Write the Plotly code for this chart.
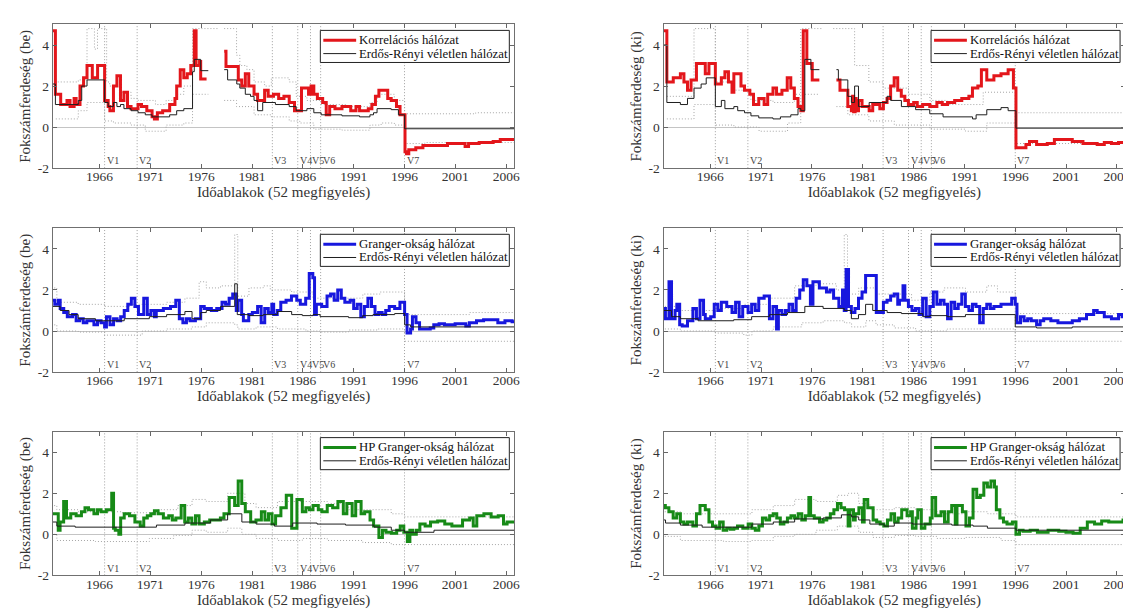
import plotly.graph_objects as go

# ---------------- data (step change points: (year, value)) ----------------
X_TICKS = [1966, 1971, 1976, 1981, 1986, 1991, 1996, 2001, 2006]
Y_TICKS = [-2, 0, 2, 4]
V_YEARS = [1966.5, 1969.7, 1983.0, 1985.5, 1986.75, 1987.75, 1996.0]
V_LABELS = ["V1", "V2", "V3", "V4", "V5", "V6", "V7"]

MAIN_NAMES = ["Korrelációs hálózat", "Korrelációs hálózat",
              "Granger-okság hálózat", "Granger-okság hálózat",
              "HP Granger-okság hálózat", "HP Granger-okság hálózat"]
ER_NAME = "Erdős-Rényi véletlen hálózat"
Y_TITLES = ["Fokszámferdeség (be)", "Fokszámferdeség (ki)"] * 3
X_TITLE = "Időablakok (52 megfigyelés)"

# Panel 1: correlation, in-degree skewness
P1_MAIN = [(1961.3, 4.7), (1961.66, 1.6), (1962.18, 1.1), (1962.8, 1.3), (1963.1, 1.0), (1963.5, 1.4),
           (1963.7, 1.1), (1964.08, 2.0), (1964.43, 2.4), (1964.77, 3.0), (1965.29, 2.4), (1965.81, 3.0),
           (1966.50, 1.3), (1966.85, 1.0), (1967.02, 0.8), (1967.37, 2.0), (1967.71, 2.5), (1968.06, 1.3),
           (1968.40, 1.7), (1968.75, 1.0), (1969.10, 0.9), (1969.79, 1.1), (1970.13, 1.0), (1970.65, 0.8),
           (1971.17, 0.5), (1971.4, 0.4), (1971.69, 0.7), (1972.21, 0.8), (1972.90, 1.1), (1973.42, 1.4),
           (1973.59, 2.0), (1973.94, 2.8), (1974.29, 2.4), (1974.63, 2.6), (1974.98, 3.0), (1975.32, 4.7),
           (1975.50, 3.0), (1975.84, 3.2), (1975.95, 2.35), (1976.53, 2.35), (1976.6, None),
           (1978.26, 3.7), (1978.44, 2.95), (1979.65, 2.3), (1979.99, 2.0), (1980.34, 2.6), (1980.68, 2.0),
           (1981.20, 1.6), (1981.55, 1.3), (1982.24, 1.8), (1982.59, 1.5), (1983.11, 1.6), (1983.62, 1.4),
           (1984.14, 1.5), (1984.66, 1.2), (1985.18, 0.8), (1985.87, 1.9), (1986.56, 1.6), (1986.81, 2.0),
           (1987.08, 1.6), (1987.43, 1.4), (1987.95, 1.2), (1988.30, 0.6), (1988.64, 1.0), (1989.16, 0.9),
           (1989.85, 1.0), (1990.71, 0.8), (1991.23, 1.0), (1991.58, 0.8), (1992.44, 0.9), (1992.79, 1.1),
           (1993.14, 1.5), (1993.48, 1.8), (1994.35, 1.4), (1994.69, 1.3), (1995.21, 1.0), (1995.56, 0.6),
           (1996.05, -1.2), (1996.2, -1.3), (1996.42, -1.1), (1997.11, -1.0), (1997.81, -0.9), (2000.23, -0.8),
           (2001.96, -0.95), (2002.30, -0.8), (2003.34, -0.75), (2004.72, -0.7), (2005.42, -0.6), (2006.8, -0.6)]
P1_ER = [(1961.3, 2.1), (1961.66, 1.1), (1963.91, 1.3), (1964.25, 2.0), (1964.77, 2.3), (1966.50, 1.2),
         (1966.85, 1.0), (1967.37, 1.2), (1967.71, 1.0), (1968.06, 1.1), (1968.40, 0.9), (1969.10, 0.8),
         (1969.79, 0.7), (1970.5, 0.6), (1971.17, 0.5), (1972.90, 0.6), (1973.59, 0.8), (1974.29, 0.9),
         (1975.15, 2.7), (1975.32, 3.3), (1975.95, 2.75), (1976.7, 2.75), (1976.75, None),
         (1978.26, 2.8), (1978.6, 2.3), (1979.5, 2.1), (1979.8, 1.9), (1980.34, 1.6), (1980.85, 1.5),
         (1981.2, 1.3), (1981.55, 0.8), (1982.05, 1.2), (1983.3, 1.1), (1984.66, 1.0), (1985.35, 0.8),
         (1986.4, 0.9), (1987.08, 0.7), (1987.8, 0.6), (1989.85, 0.55), (1991.58, 0.5), (1992.6, 0.6),
         (1992.95, 0.7), (1993.3, 0.9), (1994.69, 0.85), (1995.4, 0.6), (1996.01, -0.08), (2006.8, -0.05)]
P1_HI = [(1961.3, 2.2), (1963.91, 2.3), (1964.77, 4.8), (1965.5, 3.8), (1965.8, 4.8), (1966.7, 2.2),
         (1967.0, 2.0), (1968.06, 1.7), (1969.10, 1.4), (1969.79, 1.3), (1971.5, 1.1), (1972.55, 1.3),
         (1973.59, 1.6), (1974.29, 2.0), (1975.15, 4.8), (1977.7, 4.8), (1977.75, None),
         (1978.26, 4.8), (1979.48, 3.5), (1979.8, 3.0), (1980.5, 2.8), (1981.2, 2.2), (1982.24, 2.0),
         (1982.9, 2.4), (1984.66, 2.2), (1985.35, 1.5), (1986.4, 1.3), (1987.8, 1.1), (1990.2, 1.0),
         (1992.6, 1.2), (1993.3, 1.6), (1995.0, 1.3), (1996.01, 0.65), (2003.0, 0.7), (2006.8, 0.7)]
P1_LO = [(1961.7, 0.4), (1963.91, 0.8), (1964.77, 1.2), (1966.5, 0.3), (1967.37, 0.2), (1969.10, 0.1),
         (1970.5, -0.2), (1972.55, 0.1), (1974.29, 0.2), (1975.15, 1.6), (1976.7, 1.6), (1976.75, None),
         (1978.26, 1.3), (1979.48, 1.0), (1981.2, 0.6), (1982.9, 0.5), (1984.66, 0.3), (1985.7, 0.2),
         (1987.08, -0.1), (1989.85, -0.15), (1992.6, 0.1), (1993.7, 0.2), (1995.0, 0.1), (1996.01, -0.8),
         (1998.0, -0.75), (2006.8, -0.75)]

# Panel 2: correlation, out-degree skewness
P2_MAIN = [(1961.24, 4.7), (1961.73, 2.2), (1962.36, 2.4), (1963.06, 2.6), (1963.41, 2.2), (1963.76, 1.8),
           (1964.11, 2.3), (1964.64, 3.1), (1965.51, 2.6), (1965.87, 3.1), (1966.50, 2.1), (1967.09, 2.4),
           (1967.44, 2.7), (1967.79, 2.2), (1968.14, 1.7), (1968.32, 2.6), (1969.02, 2.0), (1969.37, 1.8),
           (1969.89, 1.6), (1970.25, 1.1), (1970.77, 1.4), (1971.30, 1.1), (1971.65, 1.6), (1972.17, 1.9),
           (1972.52, 1.6), (1973.05, 1.8), (1973.57, 2.4), (1973.92, 1.9), (1974.27, 1.4), (1974.63, 1.0),
           (1974.91, 0.8), (1975.15, 4.7), (1975.50, 3.1), (1976.03, 2.3), (1976.73, 2.3), (1976.8, None),
           (1978.41, 2.3), (1978.76, 1.8), (1979.53, 1.0), (1979.88, 0.8), (1980.0, 1.5), (1980.1, 0.75),
           (1980.25, 1.4), (1980.35, 0.8), (1980.58, 1.3), (1980.93, 1.0), (1981.63, 0.8), (1981.98, 1.1),
           (1982.68, 0.9), (1983.03, 1.2), (1983.39, 1.4), (1983.74, 2.0), (1984.09, 2.4), (1984.44, 1.8),
           (1984.79, 1.5), (1985.14, 1.3), (1985.49, 1.1), (1986.01, 1.2), (1986.36, 1.0), (1986.89, 1.1),
           (1987.59, 1.0), (1988.29, 1.2), (1988.82, 1.1), (1989.34, 1.2), (1990.04, 1.3), (1990.74, 1.4),
           (1991.44, 1.5), (1991.79, 1.9), (1992.32, 2.0), (1992.67, 2.8), (1993.20, 2.3), (1993.90, 2.5),
           (1994.60, 2.6), (1995.30, 2.8), (1995.82, 1.9), (1996.07, -1.0), (1997.05, -0.85), (1997.40, -0.7),
           (1998.10, -0.85), (1999.15, -0.8), (1999.85, -0.6), (2001.61, -0.7), (2002.66, -0.8),
           (2004.06, -0.85), (2004.76, -0.75), (2005.46, -0.8), (2006.16, -0.75), (2006.8, -0.75)]
P2_ER = [(1961.24, 4.0), (1961.73, 1.2), (1963.06, 1.1), (1963.76, 1.4), (1964.4, 1.9), (1965.1, 2.1),
         (1965.6, 2.4), (1966.50, 1.0), (1967.09, 1.3), (1967.44, 0.9), (1968.32, 1.0), (1968.7, 0.8),
         (1969.37, 0.7), (1970.0, 0.55), (1970.77, 0.45), (1972.17, 0.4), (1972.9, 0.5), (1973.92, 0.6),
         (1974.63, 0.9), (1974.91, 0.8), (1975.3, 3.3), (1975.9, 2.8), (1976.73, 2.8), (1976.8, None),
         (1978.41, 2.8), (1978.6, 2.3), (1979.53, 1.5), (1979.88, 1.2), (1980.2, 2.0), (1980.58, 1.0),
         (1981.63, 1.2), (1983.39, 1.5), (1983.74, 1.3), (1984.8, 1.0), (1986.2, 0.85), (1987.59, 0.65),
         (1988.9, 0.5), (1991.8, 0.4), (1992.15, 0.6), (1993.2, 0.85), (1994.6, 0.95), (1995.3, 0.8),
         (1996.07, -0.05), (2006.8, -0.05)]
P2_HI = [(1961.73, 1.5), (1964.4, 4.8), (1966.50, 2.2), (1968.32, 1.8), (1970.0, 1.3), (1972.17, 1.2),
         (1974.27, 1.6), (1974.9, 4.8), (1977.1, 4.8), (1977.15, None), (1978.1, 4.8), (1980.2, 3.0),
         (1981.6, 2.2), (1983.0, 1.9), (1985.5, 1.6), (1987.6, 1.3), (1989.3, 1.1), (1992.85, 1.7),
         (1996.07, 0.7), (2006.8, 0.7)]
P2_LO = [(1961.73, 0.4), (1964.4, 1.1), (1966.50, 0.1), (1968.32, 0.0), (1970.8, -0.2), (1973.6, 0.2),
         (1974.9, 1.6), (1976.73, 1.6), (1976.8, None), (1978.41, 1.0), (1979.53, 0.6), (1981.6, 0.3),
         (1984.1, 0.1), (1987.6, -0.1), (1991.1, -0.2), (1993.2, 0.2), (1996.07, -0.8), (2006.8, -0.8)]

# Panel 3: Granger, in-degree skewness
P3_MAIN = [(1961.25, 1.5), (1961.60, 1.3), (1961.95, 1.5), (1962.13, 1.1), (1962.48, 0.9), (1962.83, 0.7),
           (1963.35, 0.8), (1963.70, 0.5), (1964.05, 0.6), (1964.40, 0.4), (1964.75, 0.5), (1965.45, 0.3),
           (1965.80, 0.5), (1966.15, 0.4), (1966.50, 0.2), (1966.68, 0.7), (1967.03, 0.3), (1967.38, 0.6),
           (1967.73, 0.5), (1968.08, 0.7), (1968.43, 1.0), (1968.78, 1.3), (1969.13, 1.6), (1969.48, 1.2),
           (1969.83, 0.8), (1970.35, 1.6), (1970.70, 0.8), (1971.05, 1.0), (1971.40, 0.7), (1971.58, 1.0),
           (1972.28, 1.1), (1972.98, 1.2), (1973.50, 1.5), (1973.85, 0.6), (1974.20, 0.4), (1974.55, 0.6),
           (1974.90, 0.5), (1975.43, 0.6), (1975.95, 1.2), (1976.30, 1.1), (1977.00, 1.0), (1977.53, 1.1),
           (1978.05, 1.4), (1978.40, 1.3), (1978.75, 1.6), (1979.10, 1.8), (1979.45, 1.0), (1979.63, 1.5),
           (1979.98, 0.8), (1980.15, 0.5), (1980.68, 0.8), (1981.03, 0.9), (1981.55, 1.2), (1981.90, 0.4),
           (1982.25, 1.1), (1982.60, 0.9), (1982.95, 1.3), (1983.13, 0.8), (1983.48, 1.0), (1983.83, 1.4),
           (1984.35, 1.5), (1984.88, 1.7), (1985.40, 1.5), (1985.75, 1.3), (1986.28, 1.6), (1986.63, 2.8),
           (1986.98, 2.6), (1987.15, 0.8), (1987.33, 1.3), (1987.85, 1.2), (1988.38, 1.7), (1988.73, 1.8),
           (1989.08, 1.5), (1989.43, 2.0), (1989.78, 1.6), (1990.13, 1.4), (1990.65, 1.5), (1991.00, 1.1),
           (1991.35, 1.3), (1991.70, 0.7), (1992.05, 1.2), (1992.40, 1.6), (1992.75, 1.2), (1993.10, 0.8),
           (1993.45, 0.9), (1993.80, 0.8), (1994.15, 1.0), (1994.50, 1.2), (1995.03, 1.1), (1995.55, 1.4),
           (1996.01, 0.8), (1996.25, -0.1), (1996.60, 0.1), (1996.78, 0.7), (1997.13, 0.4), (1997.48, 0.1),
           (1998.53, 0.15), (1998.88, 0.3), (1999.40, 0.35), (1999.93, 0.3), (2000.98, 0.35), (2002.03, 0.25),
           (2002.38, 0.4), (2003.08, 0.5), (2003.78, 0.55), (2005.18, 0.4), (2005.88, 0.5), (2006.58, 0.45),
           (2006.8, 0.45)]
P3_ER = [(1961.25, 1.2), (1962.13, 1.0), (1963.0, 0.8), (1963.9, 0.6), (1965.6, 0.5), (1968.43, 0.6),
         (1970.9, 0.7), (1972.6, 0.8), (1974.4, 0.95), (1975.1, 0.6), (1975.95, 0.9), (1976.5, 1.0),
         (1977.9, 1.2), (1979.3, 2.3), (1979.55, 0.8), (1980.68, 0.75), (1982.1, 0.8), (1983.5, 0.95),
         (1984.9, 0.8), (1985.95, 0.75), (1987.0, 0.8), (1987.7, 0.7), (1990.5, 0.65), (1991.9, 0.75),
         (1992.9, 0.8), (1995.03, 0.85), (1996.01, 0.3), (1996.6, 0.2), (2006.8, 0.2)]
P3_HI = [(1961.25, 2.1), (1961.8, 1.4), (1963.9, 1.3), (1966.5, 1.2), (1969.1, 1.3), (1972.6, 1.4),
         (1974.4, 1.6), (1975.8, 2.4), (1976.5, 2.1), (1977.9, 2.2), (1979.3, 4.7), (1979.6, 1.7),
         (1980.7, 2.1), (1982.1, 2.2), (1982.8, 2.0), (1984.9, 1.9), (1987.0, 1.6), (1991.9, 1.8),
         (1993.6, 1.9), (1996.01, 0.8), (2002.4, 0.9), (2006.8, 0.9)]
P3_LO = [(1961.25, 0.3), (1961.8, 0.0), (1963.9, -0.05), (1966.5, -0.2), (1970.2, 0.0), (1972.6, 0.1),
         (1975.1, 0.2), (1976.5, 0.4), (1979.3, 0.3), (1979.6, 0.1), (1981.4, 0.2), (1983.5, 0.1),
         (1986.3, 0.0), (1987.7, -0.05), (1990.5, 0.05), (1993.3, 0.1), (1996.01, -0.5), (2006.8, -0.5)]

# Panel 4: Granger, out-degree skewness
P4_MAIN = [(1961.24, 1.1), (1961.59, 0.6), (1961.94, 2.4), (1962.19, 0.6), (1962.54, 1.0), (1962.71, 1.3),
           (1962.99, 0.3), (1963.24, 0.25), (1963.76, 0.5), (1964.29, 1.1), (1964.64, 0.6), (1964.99, 1.5),
           (1965.34, 0.8), (1965.51, 0.6), (1966.04, 0.7), (1966.39, 1.3), (1966.74, 1.0), (1967.09, 1.4),
           (1967.62, 1.2), (1968.14, 0.9), (1968.49, 1.4), (1968.84, 0.7), (1969.19, 1.2), (1969.72, 0.9),
           (1970.07, 1.3), (1970.42, 1.0), (1970.77, 1.6), (1971.30, 1.7), (1971.82, 0.6), (1972.17, 1.2),
           (1972.52, 0.1), (1972.70, 1.0), (1973.05, 0.8), (1973.40, 1.0), (1973.75, 1.3), (1974.10, 1.0),
           (1974.45, 1.6), (1974.80, 2.0), (1975.15, 2.5), (1975.50, 2.2), (1975.85, 1.3), (1976.10, 2.4),
           (1976.73, 2.1), (1977.43, 1.9), (1977.78, 2.0), (1978.13, 1.6), (1978.65, 1.2), (1979.01, 2.0),
           (1979.18, 1.0), (1979.36, 3.0), (1979.60, 1.2), (1979.88, 0.9), (1980.23, 1.1), (1980.58, 1.6),
           (1980.93, 1.9), (1981.28, 2.7), (1982.33, 0.9), (1983.03, 1.4), (1983.39, 1.5), (1983.74, 1.7),
           (1984.09, 1.8), (1984.44, 1.3), (1984.61, 1.5), (1984.96, 2.2), (1985.14, 1.5), (1985.49, 1.2),
           (1985.84, 1.0), (1986.19, 1.1), (1986.54, 0.8), (1986.89, 1.6), (1987.24, 0.7), (1987.59, 1.2),
           (1987.94, 1.9), (1988.29, 1.3), (1988.64, 1.5), (1988.99, 1.3), (1989.34, 0.6), (1989.69, 1.4),
           (1990.04, 1.1), (1990.39, 1.3), (1990.74, 1.8), (1991.09, 1.2), (1991.44, 1.0), (1991.79, 1.3),
           (1992.14, 1.2), (1992.50, 0.4), (1992.85, 1.1), (1993.20, 1.3), (1993.55, 1.1), (1993.90, 1.2),
           (1994.60, 1.3), (1995.65, 1.6), (1996.00, 1.3), (1996.17, 0.4), (1996.52, 0.7), (1996.87, 0.5),
           (1997.22, 0.6), (1997.57, 0.5), (1998.10, 0.3), (1998.45, 0.5), (1998.80, 0.6), (1999.50, 0.5),
           (2000.20, 0.4), (2001.61, 0.5), (2002.31, 0.6), (2003.01, 0.8), (2003.71, 1.0), (2004.06, 0.9),
           (2004.76, 0.7), (2005.46, 0.6), (2006.16, 0.8), (2006.51, 0.7), (2006.8, 0.7)]
P4_ER = [(1961.24, 1.0), (1962.19, 0.7), (1963.06, 0.6), (1964.8, 0.5), (1968.3, 0.55), (1970.07, 0.7),
         (1971.82, 0.8), (1973.6, 0.9), (1975.3, 1.2), (1977.1, 1.1), (1979.18, 1.0), (1979.88, 0.6),
         (1980.58, 0.8), (1981.28, 1.3), (1981.98, 1.0), (1983.4, 0.9), (1984.8, 0.85), (1986.9, 0.7),
         (1987.6, 0.75), (1989.3, 0.7), (1991.1, 0.8), (1996.0, 0.2), (1998.1, 0.15), (2001.6, 0.2),
         (2006.8, 0.2)]
P4_HI = [(1961.24, 1.2), (1963.06, 1.0), (1966.5, 1.1), (1969.3, 1.3), (1971.8, 1.6), (1974.3, 2.2),
         (1976.4, 2.3), (1978.4, 2.0), (1979.18, 4.7), (1979.5, 1.8), (1980.6, 2.1), (1982.33, 1.8),
         (1985.8, 1.5), (1987.6, 1.9), (1989.0, 2.1), (1991.1, 1.9), (1993.2, 2.2), (1994.25, 1.9),
         (1996.0, 0.85), (2006.8, 0.85)]
P4_LO = [(1961.24, 0.1), (1963.06, 0.0), (1966.5, -0.1), (1969.3, -0.2), (1970.1, 0.0), (1972.2, 0.2),
         (1975.0, 0.4), (1977.1, 0.5), (1979.2, 0.4), (1979.9, 0.2), (1981.3, 0.5), (1982.3, 0.3),
         (1984.1, 0.15), (1986.2, 0.0), (1989.3, 0.1), (1996.0, -0.5), (2006.8, -0.5)]

# Panel 5: HP Granger, in-degree skewness
P5_MAIN = [(1961.24, 1.0), (1961.94, 0.2), (1962.12, 0.6), (1962.47, 1.6), (1962.75, 0.8), (1963.17, 1.0),
           (1963.70, 0.9), (1964.22, 1.1), (1964.57, 1.3), (1964.92, 1.2), (1965.45, 1.0), (1965.80, 1.2),
           (1966.15, 1.1), (1966.67, 1.2), (1967.20, 2.0), (1967.38, 0.3), (1967.55, 0.2), (1967.90, 0.0),
           (1968.08, 0.8), (1968.43, 1.0), (1968.95, 0.9), (1969.48, 0.6), (1970.00, 0.4), (1970.35, 0.8),
           (1970.70, 0.9), (1971.05, 1.0), (1971.40, 1.15), (1971.76, 1.0), (1972.28, 0.8), (1972.81, 0.9),
           (1973.16, 0.7), (1973.51, 0.8), (1974.03, 1.4), (1974.38, 0.6), (1974.73, 0.8), (1975.08, 0.5),
           (1975.44, 0.9), (1975.79, 0.5), (1976.31, 0.6), (1976.84, 0.7), (1977.89, 0.8), (1978.24, 1.0),
           (1978.76, 1.8), (1979.29, 1.4), (1979.64, 2.6), (1979.99, 1.5), (1980.34, 1.1), (1980.87, 0.6),
           (1981.39, 0.7), (1981.92, 1.1), (1982.27, 0.7), (1982.62, 1.0), (1982.97, 0.5), (1983.32, 0.9),
           (1983.84, 1.3), (1984.37, 1.9), (1984.90, 0.3), (1985.42, 1.7), (1985.95, 1.1), (1986.30, 1.3),
           (1986.65, 1.2), (1987.00, 1.4), (1987.52, 1.2), (1987.87, 1.1), (1988.40, 1.4), (1988.93, 1.3),
           (1989.45, 1.6), (1989.98, 1.0), (1990.33, 1.5), (1990.85, 0.9), (1991.20, 1.6), (1991.73, 1.0),
           (1992.08, 1.1), (1992.61, 0.7), (1992.96, 0.4), (1993.48, -0.15), (1993.83, 0.2), (1994.18, 0.1),
           (1994.71, 0.05), (1995.23, 0.2), (1995.58, 0.4), (1995.93, 0.1), (1996.28, -0.35), (1996.53, 0.2),
           (1996.81, 0.0), (1997.16, 0.2), (1997.51, 0.5), (1998.03, 0.4), (1998.56, 0.6), (1999.26, 0.65),
           (1999.96, 0.5), (2000.66, 0.4), (2001.71, 0.7), (2002.41, 0.8), (2002.76, 0.4), (2003.11, 0.9),
           (2003.81, 1.0), (2004.52, 0.85), (2005.22, 0.9), (2005.74, 0.5), (2006.09, 0.6), (2006.8, 0.6)]
P5_ER = [(1961.24, 0.6), (1961.8, 0.4), (1963.6, 0.35), (1971.6, 0.45), (1974.4, 0.55), (1976.9, 0.7),
         (1978.6, 1.0), (1980.0, 0.6), (1981.4, 0.5), (1983.2, 0.4), (1985.0, 0.55), (1987.4, 0.5),
         (1990.2, 0.45), (1993.0, 0.35), (1994.7, 0.2), (1996.0, 0.1), (1998.9, 0.2), (2006.8, 0.2)]
P5_HI = [(1961.24, 1.4), (1961.8, 1.2), (1963.9, 1.1), (1968.1, 1.05), (1971.6, 1.2), (1973.7, 1.4),
         (1975.1, 1.7), (1976.5, 1.6), (1978.6, 2.0), (1980.3, 1.5), (1981.4, 1.3), (1983.5, 1.6),
         (1988.4, 1.5), (1990.5, 1.2), (1994.7, 1.0), (1996.0, 0.85), (2006.8, 0.85)]
P5_LO = [(1961.24, 0.0), (1961.8, -0.3), (1965.6, -0.35), (1970.9, -0.2), (1973.3, -0.05), (1975.1, 0.2),
         (1976.5, 0.1), (1978.6, 0.3), (1980.0, 0.0), (1981.4, -0.2), (1983.5, -0.3), (1985.95, -0.2),
         (1988.4, -0.3), (1991.9, -0.4), (1994.7, -0.5), (2006.8, -0.5)]

# Panel 6: HP Granger, out-degree skewness
P6_MAIN = [(1961.23, 1.4), (1961.58, 1.3), (1961.93, 1.1), (1962.35, 0.8), (1962.70, 1.0), (1963.06, 0.6),
           (1963.41, 0.5), (1963.76, 0.6), (1964.29, 0.4), (1964.64, 1.0), (1964.99, 1.4), (1965.51, 1.2),
           (1965.87, 0.6), (1966.22, 0.4), (1966.57, 0.3), (1966.92, 0.6), (1967.27, 0.2), (1967.62, 0.3),
           (1967.97, 0.25), (1968.32, 0.3), (1968.68, 0.4), (1969.20, 0.3), (1969.73, 0.5), (1970.08, 0.3),
           (1970.43, 0.2), (1970.78, 0.4), (1971.13, 0.8), (1971.48, 0.7), (1971.84, 0.9), (1972.19, 1.0),
           (1972.54, 0.8), (1972.89, 0.5), (1973.24, 0.6), (1973.59, 0.8), (1973.94, 0.9), (1974.29, 0.8),
           (1974.65, 1.0), (1975.00, 0.7), (1975.35, 0.9), (1975.70, 1.8), (1975.87, 0.9), (1976.23, 0.8),
           (1976.75, 0.6), (1977.10, 0.7), (1977.46, 0.8), (1977.81, 1.0), (1978.16, 1.2), (1978.51, 1.5),
           (1978.86, 1.3), (1979.21, 1.2), (1979.56, 0.4), (1979.74, 1.2), (1980.09, 0.7), (1980.26, 1.0),
           (1980.62, 1.3), (1980.97, 0.6), (1981.14, 1.7), (1981.49, 1.3), (1982.02, 0.7), (1982.37, 0.6),
           (1982.72, 0.5), (1983.07, 0.4), (1983.43, 0.7), (1983.78, 1.0), (1984.13, 0.6), (1984.48, 0.8),
           (1984.83, 1.2), (1985.36, 0.9), (1985.71, 1.1), (1985.88, 0.3), (1986.24, 0.8), (1986.41, 1.2),
           (1986.76, 0.3), (1987.11, 0.5), (1987.64, 0.8), (1987.82, 1.8), (1988.17, 0.9), (1988.70, 1.1),
           (1989.04, 0.6), (1989.40, 1.1), (1989.75, 1.4), (1990.10, 0.5), (1990.27, 1.4), (1990.80, 1.1),
           (1991.15, 0.4), (1991.50, 0.8), (1991.85, 2.2), (1992.21, 1.8), (1992.56, 1.9), (1992.91, 2.5),
           (1993.26, 2.3), (1993.61, 2.6), (1993.96, 2.3), (1994.14, 1.2), (1994.49, 0.8), (1994.84, 0.6),
           (1995.19, 0.5), (1995.72, 0.6), (1996.07, 0.0), (1996.42, 0.2), (1996.77, 0.15), (1997.47, 0.2),
           (1998.18, 0.1), (1999.23, 0.2), (2000.28, 0.15), (2000.99, 0.1), (2001.69, 0.05), (2002.39, 0.3),
           (2003.09, 0.6), (2003.80, 0.5), (2004.50, 0.65), (2005.20, 0.6), (2006.60, 0.7), (2006.8, 0.7)]
P6_ER = [(1961.23, 0.7), (1961.6, 0.55), (1963.06, 0.45), (1965.2, 0.35), (1970.1, 0.5), (1972.2, 0.6),
         (1974.3, 0.75), (1977.1, 0.8), (1978.9, 0.95), (1979.9, 0.85), (1980.6, 0.7), (1981.7, 0.5),
         (1983.1, 0.4), (1984.1, 0.55), (1985.9, 0.5), (1989.75, 0.45), (1991.85, 0.4), (1993.26, 0.3),
         (1996.07, 0.2), (2006.8, 0.2)]
P6_HI = [(1961.23, 1.1), (1963.06, 1.0), (1970.1, 1.2), (1972.2, 1.4), (1974.3, 1.7), (1976.4, 1.6),
         (1978.5, 1.9), (1979.6, 2.0), (1980.6, 1.5), (1981.7, 1.2), (1984.1, 1.3), (1986.2, 1.2),
         (1988.3, 1.0), (1991.1, 1.1), (1993.3, 1.0), (1996.07, 0.85), (2006.8, 0.85)]
P6_LO = [(1961.23, -0.1), (1963.06, -0.3), (1967.3, -0.35), (1970.1, -0.3), (1972.2, -0.1), (1974.3, 0.0),
         (1976.4, 0.2), (1978.5, 0.4), (1980.6, 0.1), (1982.0, -0.15), (1984.1, -0.05), (1986.2, -0.1),
         (1988.3, -0.2), (1991.1, -0.15), (1994.6, -0.3), (1996.07, -0.5), (2006.8, -0.5)]

# ---------------- styling / layout ----------------
FONT = "Liberation Serif"
MAIN_COLORS = ["#e3161b", "#e3161b", "#1717de", "#1717de", "#178a17", "#178a17"]
ER_COLOR = "#1e1e1e"
BAND_COLOR = "#a6a6a6"
X_RANGE = [1961.4, 2006.8]
Y_RANGE = [-2, 5]

W, H = 1131, 612
COL_PX = [(45, 509), (659, 1123)]
ROW_PX = [(16.7, 162.3), (223.3, 368.9), (429.3, 574.9)]
LEG_W, LEG_H = 190, 32.5

PANELS = [(P1_MAIN, P1_ER, P1_HI, P1_LO), (P2_MAIN, P2_ER, P2_HI, P2_LO),
          (P3_MAIN, P3_ER, P3_HI, P3_LO), (P4_MAIN, P4_ER, P4_HI, P4_LO),
          (P5_MAIN, P5_ER, P5_HI, P5_LO), (P6_MAIN, P6_ER, P6_HI, P6_LO)]


def split(pairs):
    return [p[0] for p in pairs], [p[1] for p in pairs]


def px(xp):
    return xp / W


def py(yp):
    return 1 - yp / H


fig = go.Figure()
layout = dict(width=W, height=H, margin=dict(l=0, r=0, t=0, b=0),
              paper_bgcolor="white", plot_bgcolor="white",
              font=dict(family=FONT, color="#333333"), showlegend=False)
shapes, annotations = [], []

for i, (main, er, hi, lo) in enumerate(PANELS):
    k = i + 1
    r, c = divmod(i, 2)
    xs = "x" if k == 1 else f"x{k}"
    ys = "y" if k == 1 else f"y{k}"
    x0, x1 = COL_PX[c]
    t0, t1 = ROW_PX[r]

    for band in (hi, lo):
        bx, by = split(band)
        fig.add_trace(go.Scatter(x=bx, y=by, mode="lines",
                                 line=dict(color=BAND_COLOR, width=1, dash="1px,2px", shape="hv"),
                                 xaxis=xs, yaxis=ys, hoverinfo="skip", connectgaps=False))
    mx, my = split(main)
    fig.add_trace(go.Scatter(x=mx, y=my, mode="lines", name=MAIN_NAMES[i],
                             line=dict(color=MAIN_COLORS[i], width=3, shape="hv"),
                             xaxis=xs, yaxis=ys, connectgaps=False))
    ex, ey = split(er)
    fig.add_trace(go.Scatter(x=ex, y=ey, mode="lines", name=ER_NAME,
                             line=dict(color=ER_COLOR, width=1, shape="hv"),
                             xaxis=xs, yaxis=ys, connectgaps=False))

    axkey_x = "xaxis" if k == 1 else f"xaxis{k}"
    axkey_y = "yaxis" if k == 1 else f"yaxis{k}"
    layout[axkey_x] = dict(domain=[px(x0), px(x1)], range=X_RANGE, anchor=ys,
                           tickvals=X_TICKS, ticktext=[str(t) for t in X_TICKS],
                           ticks="inside", ticklen=4, tickcolor="#666", mirror="ticks",
                           showline=True, linecolor="#707070", linewidth=1,
                           showgrid=False, zeroline=False, ticklabelstandoff=-4,
                           tickfont=dict(family=FONT, size=13.5, color="#333"),
                           title=dict(text=X_TITLE, font=dict(family=FONT, size=15, color="#333"), standoff=2))
    layout[axkey_y] = dict(domain=[py(t1), py(t0)], range=Y_RANGE, anchor=xs,
                           tickvals=Y_TICKS, ticktext=[str(t) for t in Y_TICKS],
                           ticks="inside", ticklen=4, tickcolor="#666", mirror="ticks",
                           showline=True, linecolor="#707070", linewidth=1,
                           showgrid=False, zeroline=True, zerolinecolor="#c4c4c4", zerolinewidth=1,
                           tickfont=dict(family=FONT, size=13.5, color="#333"),
                           title=dict(text=Y_TITLES[i], font=dict(family=FONT, size=15, color="#333"), standoff=3))

    for v, lab in zip(V_YEARS, V_LABELS):
        shapes.append(dict(type="line", xref=xs, yref=f"{ys} domain", x0=v, x1=v, y0=0, y1=1,
                           line=dict(color="#a0a0a0", width=1, dash="1px,2px"), layer="below"))
        annotations.append(dict(xref=xs, yref=ys, x=v, y=-1.65, text=lab, showarrow=False,
                                xanchor="left", yanchor="middle", xshift=0,
                                font=dict(family=FONT, size=10, color="#444")))

    # legend box (MATLAB style, top-right inside the axes)
    lr = x1 - 5
    ll = lr - LEG_W
    lt = t0 + 6
    lb = lt + LEG_H
    shapes.append(dict(type="rect", xref="paper", yref="paper", x0=px(ll), x1=px(lr), y0=py(lb), y1=py(lt),
                       line=dict(color="#222", width=1), fillcolor="white", layer="above"))
    entries = [(MAIN_NAMES[i], MAIN_COLORS[i], 3, lt + 10), (ER_NAME, ER_COLOR, 1, lt + 23.5)]
    for name, col, lw, ey_px in entries:
        shapes.append(dict(type="line", xref="paper", yref="paper", x0=px(ll + 3), x1=px(ll + 36),
                           y0=py(ey_px), y1=py(ey_px), line=dict(color=col, width=lw), layer="above"))
        annotations.append(dict(xref="paper", yref="paper", x=px(ll + 37), y=py(ey_px), text=name,
                                showarrow=False, xanchor="left", yanchor="middle",
                                font=dict(family=FONT, size=12.8, color="#111")))

layout["shapes"] = shapes
layout["annotations"] = annotations
fig.update_layout(**layout)
fig.write_html("out.html")
